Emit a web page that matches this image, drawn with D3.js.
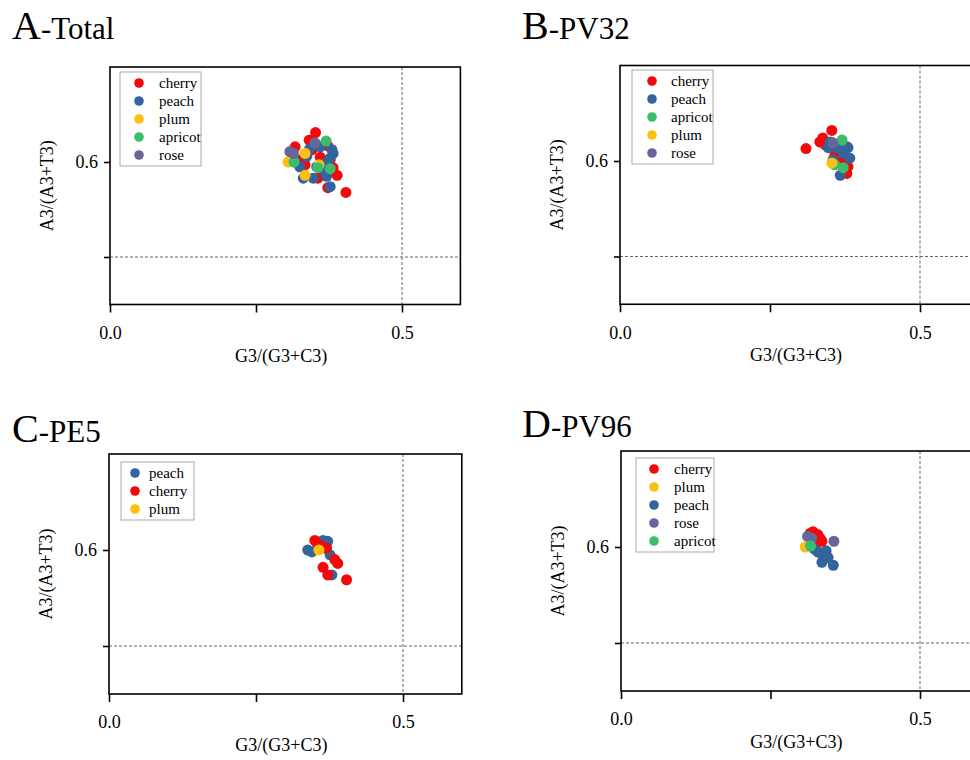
<!DOCTYPE html>
<html>
<head>
<meta charset="utf-8">
<script src="https://cdn.jsdelivr.net/npm/d3@7"></script>
<style>
  body { margin: 0; background: #fff; }
  svg { display: block; }
  svg text { font-family: "Liberation Serif", "Times New Roman", serif; fill: #000; }
</style>
</head>
<body>
<svg id="chart" width="970" height="760"></svg>
<script>
// ---- data ----
const xTicks = [0, 0.25, 0.5];
const xTickLabels = {0: "0.0", 0.5: "0.5"};
const yTicks = [0.5, 0.6];
const yTickLabels = {0.6: "0.6"};
const xTitle = "G3/(G3+C3)";
const yTitle = "A3/(A3+T3)";

// Panel A - Total
const totalCherry = [[0.352,0.631],[0.404,0.568],[0.389,0.586],[0.373,0.573],[0.317,0.616],[0.341,0.623],
  [0.373,0.617],[0.360,0.605],[0.325,0.602],[0.334,0.597],[0.368,0.592],[0.313,0.607],[0.382,0.594],
  [0.346,0.613],[0.356,0.583],[0.377,0.602]];
const totalPeach = [[0.377,0.574],[0.331,0.583],[0.348,0.583],[0.371,0.585],[0.380,0.613],[0.377,0.604],
  [0.342,0.614],[0.325,0.595],[0.354,0.595],[0.365,0.592],[0.337,0.606],[0.360,0.616],[0.371,0.599],
  [0.317,0.600],[0.382,0.609]];
const totalPlum = [[0.305,0.600],[0.334,0.586],[0.334,0.609],[0.358,0.597]];
const totalApricot = [[0.370,0.622],[0.315,0.600],[0.356,0.594],[0.377,0.593]];
const totalRose = [[0.308,0.611],[0.314,0.609],[0.351,0.620]];

// Panel B - PV32
const pv32Cherry = [[0.310,0.613],[0.353,0.632],[0.338,0.624],[0.342,0.617],[0.361,0.605],[0.372,0.598],
  [0.380,0.594],[0.378,0.587],[0.370,0.610],[0.358,0.606],[0.333,0.620]];
const pv32Peach = [[0.347,0.614],[0.361,0.614],[0.372,0.608],[0.380,0.614],[0.383,0.603],[0.367,0.585],
  [0.350,0.620],[0.378,0.615],[0.355,0.601]];
const pv32Apricot = [[0.370,0.622],[0.358,0.596],[0.372,0.593]];
const pv32Plum = [[0.353,0.598]];
const pv32Rose = [[0.355,0.619]];

// Panel C - PE5
const pe5Peach = [[0.364,0.610],[0.355,0.605],[0.372,0.609],[0.376,0.595],[0.379,0.574],[0.345,0.598],
  [0.367,0.602],[0.338,0.600]];
const pe5Cherry = [[0.384,0.590],[0.389,0.586],[0.364,0.582],[0.372,0.574],[0.404,0.569],[0.370,0.602],
  [0.350,0.610],[0.359,0.605]];
const pe5Plum = [[0.357,0.600]];

// Panel D - PV96
const pv96Cherry = [[0.321,0.616],[0.329,0.613],[0.336,0.606],[0.327,0.604],[0.324,0.599],[0.346,0.589],
  [0.316,0.614],[0.333,0.609]];
const pv96Plum = [[0.308,0.600],[0.338,0.586]];
const pv96Peach = [[0.333,0.594],[0.343,0.596],[0.336,0.584],[0.355,0.581],[0.323,0.598],[0.329,0.595],
  [0.346,0.589]];
const pv96Rose = [[0.312,0.611],[0.319,0.609],[0.356,0.606]];
const pv96Apricot = [[0.317,0.601]];

const colors = {
  cherry: "#f20a0a",
  peach: "#33659c",
  plum: "#fdbf12",
  apricot: "#3dbd6b",
  rose: "#66669a"
};

const FONT = "'Liberation Serif', 'Times New Roman', serif";

// layout of each panel: pixel of x=0, px per unit x, pixel of y=0.6, px per unit y
const panels = [
  {letter: "A", name: "Total", tx: 12, ty: 39, x0: 110, kx: 584, y06: 162, ky: 950,
   legend: {x: 120, y: 72, w: 81, dotDx: 19, textDx: 39},
   series: [["cherry", totalCherry], ["peach", totalPeach], ["plum", totalPlum],
            ["apricot", totalApricot], ["rose", totalRose]]},
  {letter: "B", name: "PV32", tx: 522, ty: 39, x0: 620, kx: 600, y06: 161, ky: 955,
   legend: {x: 632, y: 70, w: 81, dotDx: 20, textDx: 39},
   series: [["cherry", pv32Cherry], ["peach", pv32Peach], ["apricot", pv32Apricot],
            ["plum", pv32Plum], ["rose", pv32Rose]]},
  {letter: "C", name: "PE5", tx: 12, ty: 442, x0: 109, kx: 588, y06: 550, ky: 960,
   legend: {x: 121, y: 462, w: 73, dotDx: 14, textDx: 28},
   series: [["peach", pe5Peach], ["cherry", pe5Cherry], ["plum", pe5Plum]]},
  {letter: "D", name: "PV96", tx: 522, ty: 437, x0: 621, kx: 598, y06: 547, ky: 960,
   legend: {x: 636, y: 458, w: 78, dotDx: 18, textDx: 38},
   series: [["cherry", pv96Cherry], ["plum", pv96Plum], ["peach", pv96Peach],
            ["rose", pv96Rose], ["apricot", pv96Apricot]]}
];

const svg = d3.select("#chart");

panels.forEach(drawPanel);

function drawPanel(p) {
  const x = d3.scaleLinear().domain([0, 0.6]).range([p.x0, p.x0 + 0.6 * p.kx]);
  const y = d3.scaleLinear().domain([0.45, 0.7]).range([p.y06 + 0.15 * p.ky, p.y06 - 0.1 * p.ky]);
  const [left, right] = x.range();
  const [bottom, top] = y.range();
  const g = svg.append("g");

  // title: big letter + smaller name
  const t = g.append("text").attr("x", p.tx).attr("y", p.ty).attr("font-family", FONT);
  t.append("tspan").text(p.letter).style("font-size", "40px");
  t.append("tspan").text("-" + p.name).style("font-size", "31px");

  // dashed reference lines
  g.append("line")
    .attr("x1", x(0.5)).attr("x2", x(0.5)).attr("y1", top).attr("y2", bottom)
    .attr("stroke", "#666").attr("stroke-width", 1).attr("stroke-dasharray", "3,2");
  g.append("line")
    .attr("x1", left).attr("x2", right).attr("y1", y(0.5)).attr("y2", y(0.5))
    .attr("stroke", "#666").attr("stroke-width", 1).attr("stroke-dasharray", "3,2");

  // frame
  g.append("rect")
    .attr("x", left).attr("y", top).attr("width", right - left).attr("height", bottom - top)
    .attr("fill", "none").attr("stroke", "#000").attr("stroke-width", 1.6);

  // axes
  const xAxis = d3.axisBottom(x).tickValues(xTicks).tickSize(8).tickSizeOuter(0)
    .tickFormat(d => xTickLabels[d] || "");
  const gx = g.append("g").attr("transform", `translate(0,${bottom})`).call(xAxis)
    .attr("font-family", FONT).attr("font-size", 18);
  gx.select(".domain").remove();
  gx.selectAll(".tick line").attr("stroke", "#000").attr("stroke-width", 1.6);
  gx.selectAll(".tick text").attr("dy", "1.3em").attr("fill", "#000");

  const yAxis = d3.axisLeft(y).tickValues(yTicks).tickSize(6).tickSizeOuter(0)
    .tickFormat(d => yTickLabels[d] || "");
  const gy = g.append("g").attr("transform", `translate(${left},0)`).call(yAxis)
    .attr("font-family", FONT).attr("font-size", 18);
  gy.select(".domain").remove();
  gy.selectAll(".tick line").attr("stroke", "#000").attr("stroke-width", 1.6);
  gy.selectAll(".tick text").attr("x", -12).attr("fill", "#000");

  // axis titles
  g.append("text")
    .attr("x", (left + right) / 2 - 4)
    .attr("y", bottom + 57)
    .attr("text-anchor", "middle").attr("font-family", FONT).style("font-size", "18px").text(xTitle);
  g.append("text")
    .attr("transform", `translate(${left - 57},${(top + bottom) / 2}) rotate(-90)`)
    .attr("text-anchor", "middle").attr("font-family", FONT).style("font-size", "18px").text(yTitle);

  // points
  p.series.forEach(([name, pts]) => {
    g.append("g").selectAll("circle")
      .data(pts)
      .join("circle")
      .attr("cx", d => x(d[0]))
      .attr("cy", d => y(d[1]))
      .attr("r", 5.5)
      .style("fill", colors[name]);
  });

  // legend
  const L = p.legend;
  const rowH = 18;
  g.append("rect")
    .attr("x", L.x).attr("y", L.y).attr("width", L.w)
    .attr("height", p.series.length * rowH + 4)
    .attr("fill", "#fff").attr("stroke", "#aaa").attr("stroke-width", 1);
  p.series.forEach(([name], i) => {
    const cy = L.y + 11 + i * rowH;
    g.append("circle").attr("cx", L.x + L.dotDx).attr("cy", cy).attr("r", 4.8)
      .style("fill", colors[name]);
    g.append("text").attr("x", L.x + L.textDx).attr("y", cy + 4.5)
      .attr("font-family", FONT).style("font-size", "15px").text(name);
  });
}
</script>
</body>
</html>
